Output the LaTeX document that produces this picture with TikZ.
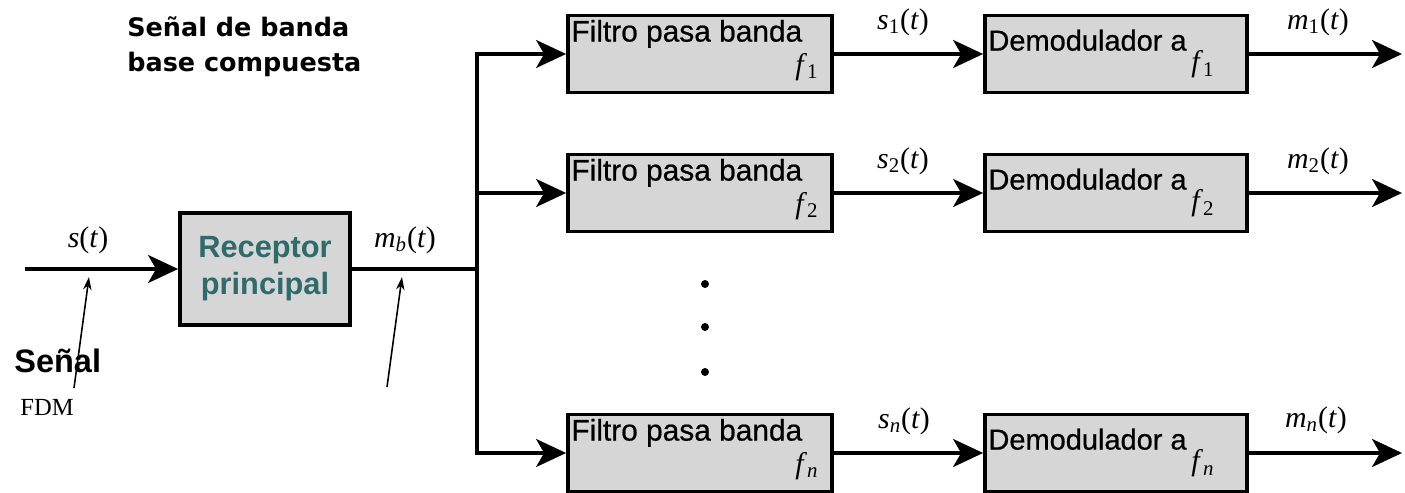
\documentclass[tikz,border=0pt]{standalone}
\usepackage{fontspec}
\usetikzlibrary{arrows.meta}
\newfontfamily\boxfont[FakeBold=0.6]{Liberation Sans}
\newfontfamily\recfont{Liberation Sans}
\newfontfamily\titlefont{DejaVu Sans}
\newfontfamily\tms{Liberation Serif}
\definecolor{boxgray}{RGB}{214,214,214}
\definecolor{tealtxt}{RGB}{47,107,107}
\newcommand{\sigl}[2]{\textit{#1}\textsubscript{#2}(\textit{t})}
\begin{document}
\begin{tikzpicture}[x=0.02cm,y=-0.02cm,
 blk/.style={draw=black, line width=2.2pt, fill=boxgray, minimum height=1.54cm, inner sep=0pt},
 filt/.style={blk, minimum width=5.28cm},
 demod/.style={blk, minimum width=5.24cm},
 conn/.style={line width=1.8pt},
 arr/.style={conn, -{Stealth[length=0.6cm,width=0.56cm,inset=0.16cm]}},
 thinarr/.style={line width=0.9pt, -{Stealth[length=0.26cm,width=0.17cm]}},
 boxtxt/.style={font=\boxfont\fontsize{17}{20}\selectfont, inner sep=0pt, anchor=base west},
 demtxt/.style={font=\boxfont\fontsize{16.5}{20}\selectfont, inner sep=0pt, anchor=base west},
 ftxt/.style={font=\tms\fontsize{17}{19}\selectfont, inner sep=0pt},
 lbl/.style={font=\tms\fontsize{17}{19}\selectfont, inner sep=0pt},
 ttl/.style={font=\titlefont\bfseries\fontsize{14.5}{18}\selectfont, inner sep=0pt, anchor=base west}]

\useasboundingbox (0,0) rectangle (1405,493);

% titles
\node[ttl] (t1) at (127,37) {Señal de banda};
\node[ttl] (t2) at (127,72) {base compuesta};
\node[font=\recfont\bfseries\fontsize{18.5}{20}\selectfont, inner sep=0pt, anchor=base west] (sen) at (14,372) {Señal};
\node[font=\tms\fontsize{14}{16}\selectfont, inner sep=0pt, anchor=base west] (fdm) at (20,415) {FDM};

% receptor
\node[blk, minimum width=3.4cm, minimum height=2.24cm, align=center, text=tealtxt,
      font=\recfont\bfseries\fontsize{17.5}{21}\selectfont] (rec) at (265,269) {Receptor\\principal};

% filters and demodulators
\node[filt] (f1) at (700,54) {};
\node[filt] (f2) at (700,193) {};
\node[filt] (fn) at (700,453) {};
\node[demod] (d1) at (1116,54) {};
\node[demod] (d2) at (1116,193) {};
\node[demod] (dn) at (1116,453) {};

\foreach \r/\s in {1/1,2/2,n/\textit{n}}{
  \node[boxtxt] (f\r t) at ([shift={(5,28)}]f\r.north west) {Filtro pasa banda};
  \node[ftxt, anchor=base east] (f\r f) at ([shift={(-15,-20)}]f\r.south east) {\textit{f}\textsubscript{\s}};
  \node[demtxt] (d\r t) at ([shift={(5,37)}]d\r.north west) {Demodulador a};
  \node[ftxt, anchor=base west] (d\r f) at ([shift={(208,58)}]d\r.north west) {\textit{f}\textsubscript{\s}};
}

% connectors
\coordinate (in) at (25,269);
\coordinate (j) at (477,269);
\draw[arr] (in) -- (rec.west);
\draw[conn] (rec.east) -- (j);
\draw[arr] (j) |- (f1.west);
\draw[arr] (j) |- (fn.west);
\draw[arr] (j |- f2.west) -- (f2.west);
\foreach \r in {1,2,n}{
  \coordinate (o\r) at (1402,0 |- d\r.east);
  \draw[arr] (f\r.east) -- (d\r.west);
  \draw[arr] (d\r.east) -- (o\r);
}

% labels
\node[lbl] (ls) at (88,240) {\textit{s}(\textit{t})};
\node[lbl] (lmb) at (405,240) {\sigl{m}{\textit{b}}};
\node[lbl] (ls1) at (903,22) {\sigl{s}{1}};
\node[lbl] (lm1) at (1318,22) {\sigl{m}{1}};
\node[lbl] (ls2) at (903,161) {\sigl{s}{2}};
\node[lbl] (lm2) at (1318,161) {\sigl{m}{2}};
\node[lbl] (lsn) at (904,421) {\sigl{s}{\textit{n}}};
\node[lbl] (lmn) at (1316,420) {\sigl{m}{\textit{n}}};

% dots
\fill (705,284) circle[radius=0.08cm];
\fill (705,327) circle[radius=0.08cm];
\fill (705,372) circle[radius=0.08cm];

% pointer arrows
\coordinate (p1) at (74,388);
\coordinate (p1e) at (89,277);
\coordinate (p2) at (387,387);
\coordinate (p2e) at (402,277);
\draw[thinarr] (p1) -- (p1e);
\draw[thinarr] (p2) -- (p2e);
\end{tikzpicture}
\end{document}
